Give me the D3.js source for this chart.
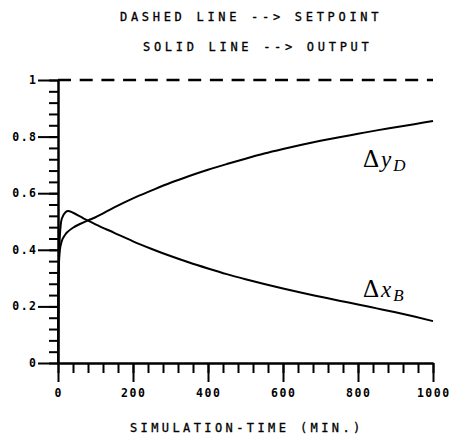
<!DOCTYPE html>
<html>
<head>
<meta charset="utf-8">
<script src="https://cdn.jsdelivr.net/npm/d3@7"></script>
<style>
  body { margin: 0; background: #fff; }
  svg { display: block; }
</style>
</head>
<body>
<div id="chart"></div>
<script>
// Data
const time = [0, 1, 2, 5, 10, 20, 27, 40, 60, 80, 100, 150, 200, 250, 300, 350, 400, 450, 500, 550, 600, 650, 700, 750, 800, 850, 900, 950, 1000];
const dxB = [0, 0.25, 0.33, 0.45, 0.51, 0.533, 0.537, 0.531, 0.517, 0.503, 0.49, 0.46, 0.43, 0.403, 0.378, 0.355, 0.334, 0.314, 0.296, 0.279, 0.263, 0.248, 0.234, 0.22, 0.207, 0.193, 0.179, 0.164, 0.148];
const dyD = [0, 0.25, 0.33, 0.40, 0.43, 0.455, 0.465, 0.478, 0.492, 0.504, 0.515, 0.55, 0.582, 0.61, 0.637, 0.661, 0.683, 0.703, 0.722, 0.74, 0.756, 0.771, 0.785, 0.798, 0.81, 0.822, 0.833, 0.844, 0.855];
const setpointX = [0, 1000];
const setpointY = [1, 1];

const xMajor = [0, 200, 400, 600, 800, 1000];
const xLabels = ["0", "200", "400", "600", "800", "1000"];
const yMajor = [0, 0.2, 0.4, 0.6, 0.8, 1];
const yLabels = ["0", "0.2", "0.4", "0.6", "0.8", "1"];
const xMinor = d3.range(0, 1001, 40);
const yMinor = d3.range(0, 1.001, 0.04);

const titleLines = ["DASHED LINE --> SETPOINT", "SOLID LINE --> OUTPUT"];
const xTitle = "SIMULATION-TIME (MIN.)";

const W = 455, H = 440;
const svg = d3.select("#chart").append("svg")
    .attr("width", W)
    .attr("height", H);

const x = d3.scaleLinear().domain([0, 1000]).range([58, 433]);
const y = d3.scaleLinear().domain([0, 1]).range([363, 80]);

// Titles
const mono = "'DejaVu Sans Mono', monospace";
svg.selectAll(".title")
    .data(titleLines)
    .join("text")
    .attr("class", "title")
    .attr("x", (d, i) => i === 0 ? 120 : 143)
    .attr("y", (d, i) => i === 0 ? 21 : 51)
    .attr("font-family", mono)
    .attr("font-size", 12)
    .attr("stroke", "#000")
    .attr("stroke-width", 0.3)
    .attr("letter-spacing", 3.7)
    .text(d => d);

// Axes - minor ticks
const axStyle = g => {
    g.selectAll("path,line").attr("stroke", "#000").attr("stroke-width", 2);
    g.selectAll("text").remove();
};
svg.append("g")
    .attr("transform", `translate(${x(0)},0)`)
    .call(d3.axisLeft(y).tickValues(yMinor).tickSize(9).tickSizeOuter(0))
    .call(axStyle);
svg.append("g")
    .attr("transform", `translate(0,${y(0)})`)
    .call(d3.axisBottom(x).tickValues(xMinor).tickSize(10).tickSizeOuter(0))
    .call(axStyle);

// Axes - major ticks
svg.append("g")
    .attr("transform", `translate(${x(0)},0)`)
    .call(d3.axisLeft(y).tickValues(yMajor).tickSize(20).tickSizeOuter(0))
    .call(axStyle);
svg.append("g")
    .attr("transform", `translate(0,${y(0)})`)
    .call(d3.axisBottom(x).tickValues(xMajor).tickSize(19).tickSizeOuter(0))
    .call(axStyle);

// Tick labels
svg.selectAll(".ylab")
    .data(yMajor)
    .join("text")
    .attr("class", "ylab")
    .attr("x", 36)
    .attr("dx", 1.5)
    .attr("y", d => y(d) + 4)
    .attr("text-anchor", "end")
    .attr("font-family", mono)
    .attr("font-size", 11.5)
    .attr("font-weight", "bold")
    .attr("letter-spacing", 1.5)
    .text((d, i) => yLabels[i]);

svg.selectAll(".xlab")
    .data(xMajor)
    .join("text")
    .attr("class", "xlab")
    .attr("x", d => x(d))
    .attr("dx", 0.75)
    .attr("y", 397)
    .attr("text-anchor", "middle")
    .attr("font-family", mono)
    .attr("font-size", 11.5)
    .attr("font-weight", "bold")
    .attr("letter-spacing", 1.5)
    .text((d, i) => xLabels[i]);

svg.append("text")
    .attr("x", 130)
    .attr("y", 432)
    .attr("font-family", mono)
    .attr("font-size", 12)
    .attr("stroke", "#000")
    .attr("stroke-width", 0.3)
    .attr("letter-spacing", 3.4)
    .text(xTitle);

// Setpoint dashed line
svg.append("path")
    .datum(setpointX.map((t, i) => [t, setpointY[i]]))
    .attr("fill", "none")
    .attr("stroke", "#000")
    .attr("stroke-width", 2.5)
    .attr("stroke-dasharray", "13,8.7")
    .attr("d", d3.line().x(d => x(d[0])).y(d => y(d[1])));

// Output curves
const line = d3.line()
    .x(d => x(d[0]))
    .y(d => y(d[1]))
    .curve(d3.curveMonotoneX);

[dxB, dyD].forEach(series => {
    svg.append("path")
        .datum(time.map((t, i) => [t, series[i]]))
        .attr("fill", "none")
        .attr("stroke", "#000")
        .attr("stroke-width", 2)
        .attr("d", line);
});

// Curve labels
const serif = "'Liberation Serif', 'DejaVu Serif', serif";
const curveLabels = [
    {main: "y", sub: "D", ypos: 167},
    {main: "x", sub: "B", ypos: 297}
];
curveLabels.forEach(c => {
    const t = svg.append("text")
        .attr("x", 363)
        .attr("y", c.ypos)
        .attr("font-family", serif)
        .attr("font-size", 23);
    t.append("tspan").attr("font-size", 25).text("\u0394");
    t.append("tspan").attr("font-style", "italic").attr("dx", 2).text(c.main);
    t.append("tspan")
        .attr("font-style", "italic")
        .attr("font-size", 17)
        .attr("dx", 2)
        .attr("dy", 4)
        .text(c.sub);
});
</script>
</body>
</html>
